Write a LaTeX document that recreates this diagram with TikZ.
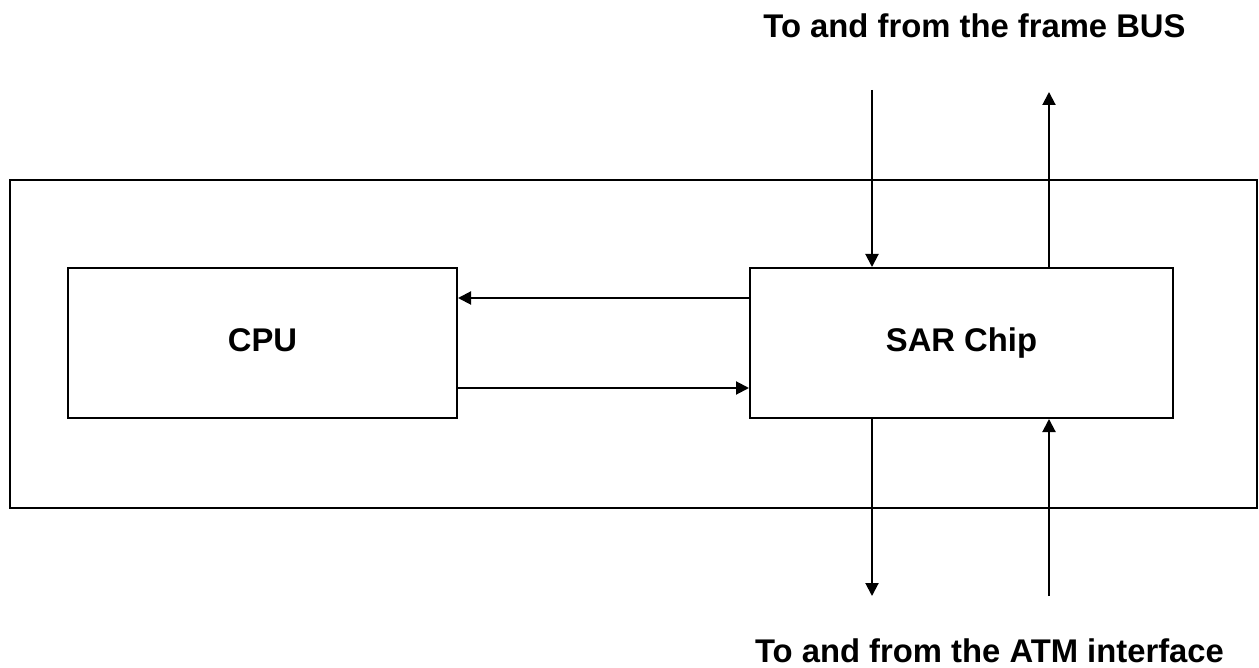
\documentclass[tikz,border=0pt]{standalone}
\usepackage{fontspec}
\setmainfont{Liberation Sans}
\usetikzlibrary{arrows.meta,positioning}

\begin{document}
\begin{tikzpicture}[
  x=0.5pt, y=-0.5pt,
  every node/.style={font=\fontsize{16.4}{19}\selectfont\bfseries},
  board/.style={draw, line width=1pt, minimum width=623.5pt, minimum height=164pt, inner sep=0pt},
  unit/.style={draw, line width=1pt, minimum height=75pt, inner sep=0pt, align=center,
               text height=11.7pt, text depth=3pt},
  caption/.style={anchor=base, inner sep=0pt},
  arr/.style={-{Triangle[length=6.5pt,width=6.5pt]}, line width=1pt}
]
  \useasboundingbox (0,0) rectangle (1259,668);

  \node[board] (board) at (633.5,344) {};
  \node[unit, minimum width=194.5pt] (cpu) at (262.5,343) {CPU};
  \node[unit, minimum width=211.5pt] (sar) at (961.5,343) {SAR Chip};

  \node[caption] (bus) at (974.5,38) {To and from the frame BUS};
  \node[caption] (atm) at (989.5,662) {To and from the ATM interface};

  % free ends of the outside links
  \coordinate (busin) at (872,90);
  \coordinate (busout) at (1049,92);
  \coordinate (atmout) at (872,596);
  \coordinate (atmin) at (1049,596);

  \draw[arr] ([yshift=22.5pt]sar.west) -- ([yshift=22.5pt]cpu.east);
  \draw[arr] ([yshift=-22.5pt]cpu.east) -- ([yshift=-22.5pt]sar.west);
  \draw[arr] (busin) -- (busin |- sar.north);
  \draw[arr] (busout |- sar.north) -- (busout);
  \draw[arr] (atmout |- sar.south) -- (atmout);
  \draw[arr] (atmin) -- (atmin |- sar.south);

\end{tikzpicture}
\end{document}
